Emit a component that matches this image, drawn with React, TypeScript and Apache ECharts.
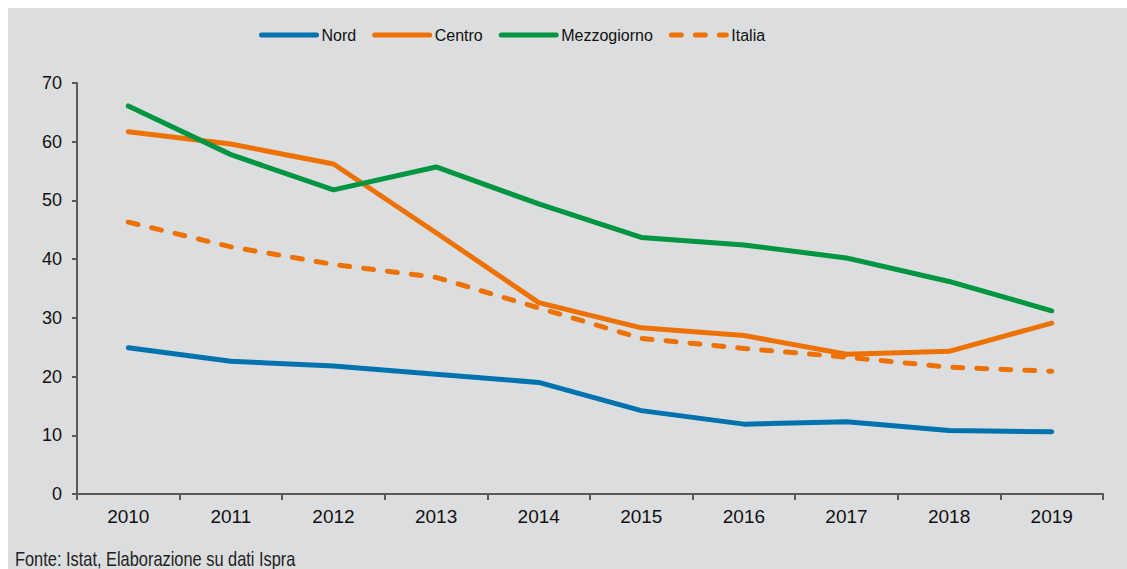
import React, { useEffect, useRef } from "react";
import * as echarts from "echarts";

const years = ["2010", "2011", "2012", "2013", "2014", "2015", "2016", "2017", "2018", "2019"];
const nord = [24.9, 22.6, 21.8, 20.4, 19.0, 14.2, 11.9, 12.3, 10.8, 10.6];
const centro = [61.7, 59.6, 56.2, 44.5, 32.6, 28.3, 27.0, 23.8, 24.3, 29.1];
const mezzogiorno = [66.1, 57.8, 51.8, 55.7, 49.4, 43.7, 42.4, 40.2, 36.2, 31.2];
const italia = [46.3, 42.1, 39.1, 36.9, 31.7, 26.5, 24.8, 23.3, 21.6, 20.9];
const footer = "Fonte: Istat, Elaborazione su dati Ispra";

const BLUE = "#0072ae";
const ORANGE = "#ee7203";
const GREEN = "#009540";
const AXIS = "#595959";
const FONT = "Liberation Sans, Arial, sans-serif";

export default function App() {
  const ref = useRef<HTMLDivElement>(null);
  useEffect(() => {
    const chart = echarts.init(ref.current!, null, { renderer: "svg" });
    const mk = (name: string, data: number[], color: string, dashed = false) => ({
      name,
      type: "line",
      data,
      symbol: "none",
      showSymbol: false,
      lineStyle: {
        color,
        width: 5,
        cap: "round",
        join: "round",
        type: dashed ? [10, 14] : "solid",
      },
      itemStyle: { color },
      emphasis: { disabled: true },
    });
    chart.setOption({
      animation: false,
      backgroundColor: "#dcdddf",
      textStyle: { fontFamily: FONT },
      legend: {
        left: 246,
        top: 14,
        itemWidth: 55,
        itemHeight: 14,
        itemGap: 16,
        itemStyle: { opacity: 0 },
        lineStyle: { width: 5 },
        textStyle: { fontSize: 16, color: "#111", fontFamily: FONT },
        data: ["Nord", "Centro", "Mezzogiorno", "Italia"],
      },
      grid: { left: 69, right: 24, top: 75, bottom: 75, containLabel: false },
      xAxis: {
        type: "category",
        data: years,
        boundaryGap: true,
        axisLine: { lineStyle: { color: AXIS, width: 2 } },
        axisTick: { show: true, length: 6, lineStyle: { color: AXIS, width: 2 } },
        axisLabel: { fontSize: 19, color: "#111", margin: 13, fontFamily: FONT },
        splitLine: { show: false },
      },
      yAxis: {
        type: "value",
        min: 0,
        max: 70,
        interval: 10,
        axisLine: { show: true, lineStyle: { color: AXIS, width: 2 } },
        axisTick: { show: true, length: 5, lineStyle: { color: AXIS, width: 2 } },
        axisLabel: { fontSize: 18, color: "#111", margin: 15, fontFamily: FONT },
        splitLine: { show: false },
      },
      graphic: [
        {
          type: "text",
          x: 7,
          y: 541,
          scaleX: 0.82,
          style: {
            text: footer,
            fontSize: 20,
            fontFamily: FONT,
            fill: "#222",
          },
        },
      ],
      series: [
        mk("Nord", nord, BLUE),
        mk("Centro", centro, ORANGE),
        mk("Mezzogiorno", mezzogiorno, GREEN),
        mk("Italia", italia, ORANGE, true),
      ],
    });
    return () => chart.dispose();
  }, []);
  return (
    <div
      ref={ref}
      style={{ position: "fixed", left: 8, top: 8, width: 1119, height: 561 }}
    />
  );
}
